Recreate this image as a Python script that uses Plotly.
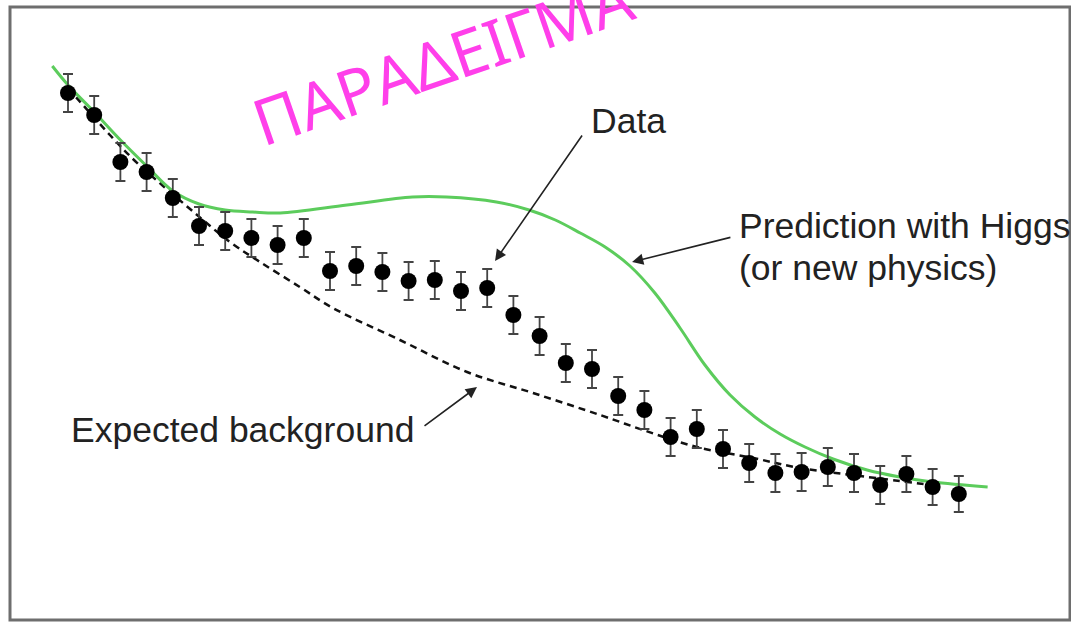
import plotly.graph_objects as go

# Measured spectrum: bin centres, event counts and statistical errors
bin_centres = [1, 2, 3, 4, 5, 6, 7, 8, 9, 10, 11, 12, 13, 14, 15, 16, 17, 18,
               19, 20, 21, 22, 23, 24, 25, 26, 27, 28, 29, 30, 31, 32, 33, 34, 35]
event_counts = [527, 505, 458, 448, 422, 394, 389, 382, 375, 382, 349, 354, 348,
                339, 340, 329, 332, 305, 284, 257, 251, 224, 210, 183, 191, 171,
                157, 147, 148, 153, 147, 135, 146, 133, 126]
count_errors = [19, 19, 19, 19, 19, 19, 19, 19, 19, 19, 19, 19, 19, 19, 19, 19,
                19, 19, 19, 19, 19, 19, 19, 19, 19, 19, 19, 19, 19, 19, 19, 19,
                18, 18, 18]

# Signal + background prediction (Higgs or new physics)
signal_x = [0.4, 1.0, 2.0, 3.0, 4.0, 5.0, 6.0, 7.0, 8.05, 9.1, 11.65, 14.15,
            15.45, 17.35, 18.6, 19.6, 20.55, 21.5, 22.45, 23.4, 24.36, 25.31,
            26.27, 27.22, 28.18, 29.13, 30.2, 31.5, 32.75, 34.0, 36.1]
signal_y = [554, 535, 508, 480, 454, 429, 416, 410, 408, 407, 415, 423,
            423, 418, 410, 400, 387, 373, 354, 327, 292, 255,
            225, 203, 186, 173, 161, 150, 143, 138, 133]

# Expected background only
background_x = [1.0, 2.6, 3.56, 4.63, 5.66, 7.18, 8.33, 9.85, 11.11, 13.67,
                16.23, 18.75, 21.31, 22.95, 25.0, 27.15, 28.94, 31.23, 34.28]
background_y = [532, 485, 459, 434, 411, 378, 358, 333, 312, 280,
                248, 227, 205, 190, 173, 162, 152, 144, 134]

TEXT_FONT = dict(family="Liberation Sans, Arial, sans-serif", size=35.5, color="#222222")
ARROW_COLOR = "#222222"

fig = go.Figure()

fig.add_trace(go.Scatter(
    x=background_x, y=background_y, mode="lines",
    line=dict(color="#111111", width=2.5, dash="7px,5px", shape="spline", smoothing=1.0),
    hoverinfo="skip", showlegend=False,
))

fig.add_trace(go.Scatter(
    x=signal_x, y=signal_y, mode="lines",
    line=dict(color="#5ccc5c", width=3, shape="spline", smoothing=1.0),
    hoverinfo="skip", showlegend=False,
))

fig.add_trace(go.Scatter(
    x=bin_centres, y=event_counts, mode="markers",
    marker=dict(color="#000000", size=16, line=dict(width=0)),
    error_y=dict(type="data", array=count_errors, visible=True,
                 color="#444444", thickness=1.8, width=5),
    showlegend=False,
))

annotations = [
    # labels
    dict(x=20.89, y=499, text="Data", showarrow=False,
         xanchor="left", yanchor="middle", font=TEXT_FONT),
    dict(x=26.54, y=394, text="Prediction with Higgs", showarrow=False,
         xanchor="left", yanchor="middle", font=TEXT_FONT),
    dict(x=26.54, y=352, text="(or new physics)", showarrow=False,
         xanchor="left", yanchor="middle", font=TEXT_FONT),
    dict(x=1.04, y=190, text="Expected background", showarrow=False,
         xanchor="left", yanchor="middle", font=TEXT_FONT),
    # pointer arrows
    dict(x=17.30, y=359, ax=20.66, ay=486, axref="x", ayref="y", text="",
         showarrow=True, arrowhead=2, arrowsize=1.4, arrowwidth=1.6,
         arrowcolor=ARROW_COLOR),
    dict(x=22.53, y=358, ax=26.34, ay=383, axref="x", ayref="y", text="",
         showarrow=True, arrowhead=2, arrowsize=1.4, arrowwidth=1.6,
         arrowcolor=ARROW_COLOR),
    dict(x=16.61, y=233, ax=14.55, ay=193, axref="x", ayref="y", text="",
         showarrow=True, arrowhead=2, arrowsize=1.4, arrowwidth=1.6,
         arrowcolor=ARROW_COLOR),
    # watermark
    dict(x=15.27, y=561, text="ΠΑΡΑΔΕΙΓΜΑ", showarrow=False,
         xanchor="center", yanchor="middle", textangle=-19,
         font=dict(family="Noto Sans, Open Sans, sans-serif", size=64, color="#ff3fea")),
]

fig.update_layout(
    width=1071, height=622,
    margin=dict(l=10, r=1, t=7, b=2),
    paper_bgcolor="white", plot_bgcolor="white",
    xaxis=dict(range=[-1.2137, 39.244], visible=False, fixedrange=True),
    yaxis=dict(range=[0, 613], visible=False, fixedrange=True),
    annotations=annotations,
    shapes=[dict(type="rect", xref="paper", yref="paper", x0=0, y0=0, x1=1, y1=1,
                 line=dict(color="#6e6e6e", width=3), layer="above")],
)

fig.write_html("out.html")
